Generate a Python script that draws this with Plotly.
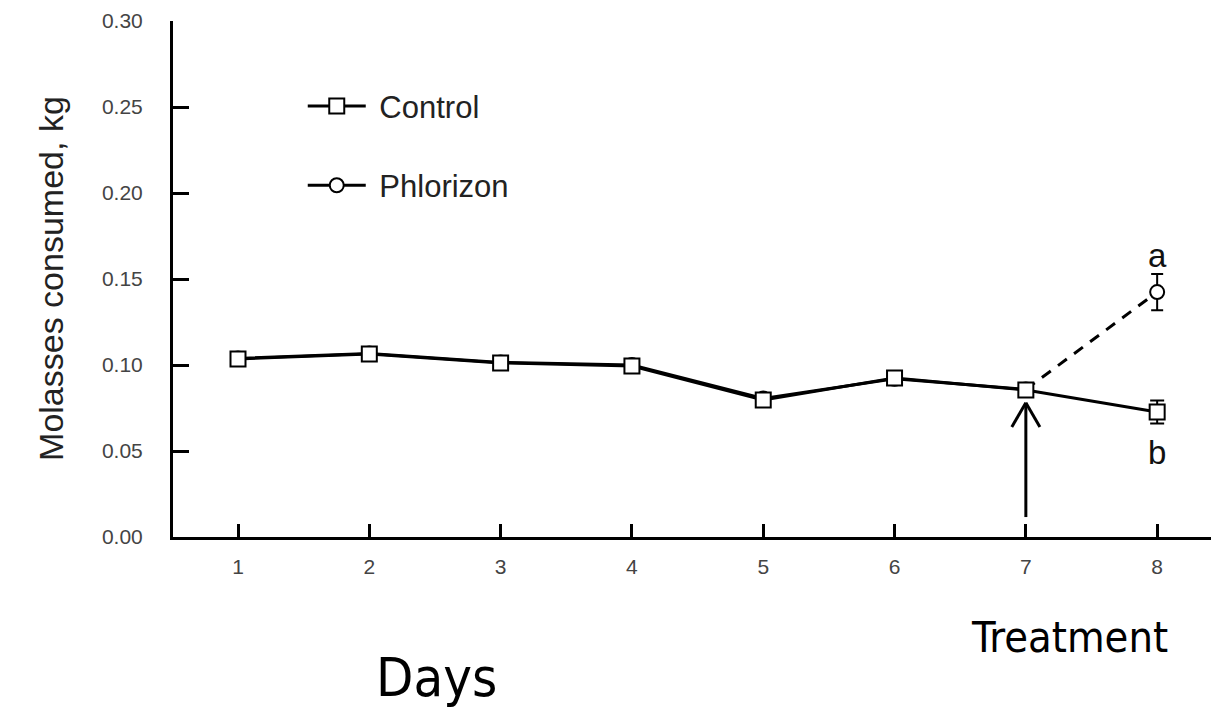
import plotly.graph_objects as go

# Daily molasses intake (kg) per group
days = [1, 2, 3, 4, 5, 6, 7, 8]
control = [0.1035, 0.1064, 0.1012, 0.0994, 0.0797, 0.0924, 0.0855, 0.0727]
phlorizon = [0.1038, 0.1067, 0.1015, 0.1, 0.0805, 0.092, 0.0858, 0.1424]
control_err = 0.0067
phlorizon_err = 0.0105
treat_day = 7
y_ticks = [0.00, 0.05, 0.10, 0.15, 0.20, 0.25, 0.30]

fig = go.Figure()

# Phlorizon before treatment (solid, hidden under the control squares)
fig.add_trace(go.Scatter(
    x=days[:7], y=phlorizon[:7], mode="lines+markers", name="\u00a0Phlorizon",
    line=dict(color="black", width=3),
    marker=dict(symbol="circle", size=14, color="white", line=dict(color="black", width=2)),
    legendgroup="p", legendrank=2,
))
# Phlorizon after treatment (dashed)
fig.add_trace(go.Scatter(
    x=days[6:], y=phlorizon[6:], mode="lines", showlegend=False,
    line=dict(color="black", width=3, dash="11px,9px"),
))
fig.add_trace(go.Scatter(
    x=[days[7]], y=[phlorizon[7]], mode="markers", showlegend=False,
    marker=dict(symbol="circle", size=14, color="white", line=dict(color="black", width=2)),
    error_y=dict(type="data", array=[phlorizon_err], color="black", thickness=2, width=6),
))
# Control group
fig.add_trace(go.Scatter(
    x=[days[7]], y=[control[7]], mode="markers", showlegend=False,
    marker=dict(symbol="square", size=1, color="black"),
    error_y=dict(type="data", array=[control_err], color="black", thickness=2, width=7),
))
fig.add_trace(go.Scatter(
    x=days, y=control, mode="lines+markers", name="\u00a0Control",
    line=dict(color="black", width=3),
    marker=dict(symbol="square", size=15, color="white", line=dict(color="black", width=2)),
    legendgroup="c", legendrank=1,
))

# Treatment arrow pointing up at day 7
arrow_tip = 0.078
arrow_base = 0.0116
for x0, y0, x1, y1 in [
    (treat_day, arrow_base, treat_day, arrow_tip),
    (treat_day - 0.107, arrow_tip - 0.014, treat_day, arrow_tip),
    (treat_day + 0.107, arrow_tip - 0.014, treat_day, arrow_tip),
]:
    fig.add_shape(type="line", x0=x0, y0=y0, x1=x1, y1=y1, xref="x", yref="y",
                  line=dict(color="black", width=3))

# Significance letters
fig.add_annotation(x=days[7], y=phlorizon[7] + phlorizon_err, text="a", showarrow=False,
                   yanchor="bottom", yshift=-2, font=dict(size=33, color="#111"))
fig.add_annotation(x=days[7], y=control[7] - control_err, text="b", showarrow=False,
                   yanchor="top", yshift=-9, font=dict(size=33, color="#111"))

# Axis captions
fig.add_annotation(xref="paper", yref="paper", x=-0.1378, y=0.502, text="Molasses consumed, kg",
                   textangle=-90, showarrow=False, font=dict(size=34, color="#222"))
narrow = "DejaVu Sans Condensed, Liberation Sans Narrow, sans-serif"
fig.add_annotation(xref="paper", yref="paper", x=0.254, y=-0.272, text="Days", showarrow=False,
                   xanchor="center", yanchor="middle", font=dict(size=54, color="black", family=narrow))
fig.add_annotation(xref="paper", yref="paper", x=0.864, y=-0.194, text="Treatment", showarrow=False,
                   xanchor="center", yanchor="middle", font=dict(size=43, color="black", family=narrow))

fig.update_layout(
    width=1211, height=718,
    margin=dict(l=173, r=0, t=21, b=181),
    plot_bgcolor="white", paper_bgcolor="white",
    font=dict(family="Liberation Sans, Arial, sans-serif", color="#333"),
    showlegend=True,
    legend=dict(x=0.125, y=0.887, xanchor="left", yanchor="top", traceorder="grouped",
                font=dict(size=31, color="#222"), bgcolor="rgba(0,0,0,0)",
                tracegroupgap=36, itemwidth=58),
)

fig.update_xaxes(range=[0.505, 8.41], tickvals=days, ticks="inside", ticklen=13, tickwidth=3,
                 tickcolor="black", showline=True, linecolor="black", linewidth=3,
                 showgrid=False, zeroline=False, tickfont=dict(size=21, color="#444"),
                 ticklabelstandoff=9)
fig.update_yaxes(range=[0, 0.30], tickvals=y_ticks, tickformat=".2f", ticks="inside",
                 ticklen=16, tickwidth=3, tickcolor="black", showline=True, linecolor="black",
                 linewidth=3, showgrid=False, zeroline=False,
                 tickfont=dict(size=21, color="#444"), ticklabelstandoff=23)

fig.write_html("out.html")
